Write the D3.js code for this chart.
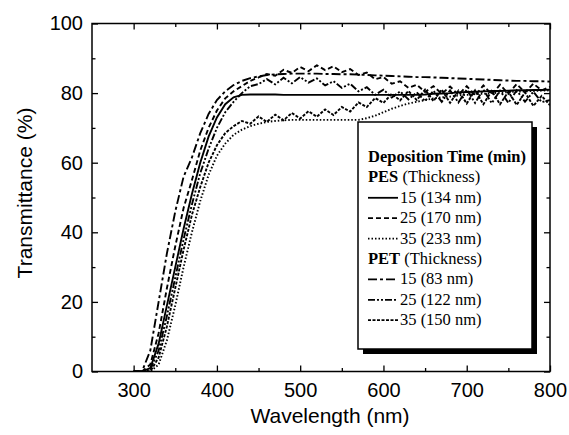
<!DOCTYPE html>
<html>
<head>
<meta charset="utf-8">
<script src="https://cdn.jsdelivr.net/npm/d3@7"></script>
<style>
  body { margin: 0; background: #fff; }
  .tick text { font-family: "Liberation Sans", Arial, sans-serif; font-size: 20px; fill: #000; }
  .legend text { font-family: "Liberation Serif", "Times New Roman", serif; font-size: 16.5px; fill: #000; }
</style>
</head>
<body>
<div id="chart"></div>
<script>
// wavelength grid (nm), one value every 10 nm
var wl = d3.range(300, 801, 10);

// transmittance (%)
var pes15 = [0,0,1,8,19,30,41,51,60,67.5,73,76.8,78.8,79.5,79.6,79.6,79.6,79.6,79.5,79.5,79.5,79.5,79.5,79.5,79.5,79.5,79.5,79.5,79.5,79.5,79.5,79.5,79.5,79.5,79.5,79.6,79.8,79.9,80,80.2,80.3,80.4,80.5,80.6,80.6,80.7,80.8,80.8,80.9,80.9,81];
var pes25 = [0,0,2,11,24,36,47,55,63.5,70,75,78.5,80.5,82,83.5,84.5,85.5,85,86.7,85.8,87.5,86.3,88,86.6,87.7,86,86.9,85.2,85.9,84,84.6,82.7,83.4,81.5,82.4,80.3,82,79.8,81.9,79.5,82,79.3,82.2,79.6,82.4,79.8,82.6,80.2,82.7,80.8,81.8];
var pes35 = [0,0,0,2,9,19,30,40,49,56.5,62,65.5,68,69.5,70.5,71.2,71.7,72,72.2,72.3,72.3,72.3,72.3,72.3,72.3,72.3,72.3,72.3,72.8,73.5,74.5,75.5,76.3,77,77.5,78,78.5,78.8,79,79.3,79.5,79.7,79.8,80,80.1,80.3,80.4,80.5,80.6,80.7,80.8];
var pet15 = [0,0,6,20,34,46,56,61.5,68.5,74,78,80.5,82.3,83.5,84.3,84.8,85.2,85.4,85.5,85.6,85.6,85.6,85.6,85.5,85.5,85.4,85.4,85.3,85.2,85.1,85,84.9,84.8,84.7,84.6,84.6,84.5,84.4,84.3,84.2,84.1,84,83.9,83.8,83.7,83.6,83.5,83.5,83.4,83.4,83.3];
var pet25 = [0,0,0.5,6,16,27,38,48,57,64,70,74.5,77.5,80,82,82.6,84,82.5,84.4,82.8,84.6,83,84.2,82.2,83.4,81.5,82.7,80.5,81.7,79.5,81,78.7,80.5,78.2,80.2,77.7,80.7,77.5,80.8,77.3,81,77.2,81,77.1,80.7,77.2,80.8,77.5,80.4,77.4,78];
var pet35 = [0,0,0,4,13,24,35,45,53,60,65,68.5,70.5,72,71.2,73.3,71.7,73.8,72.2,74.3,72.7,74.8,73.2,75.3,73.7,76,74.7,77.3,76,78.6,77.2,79.8,77.9,80.6,78,81,77.7,81,77.2,80.7,77,80.8,76.8,80.6,76.8,80.4,76.6,80.2,76.3,79.2,76.5];

var series = [
  { name: "PES 15", values: pes15, dash: null },
  { name: "PES 25", values: pes25, dash: "5,3" },
  { name: "PES 35", values: pes35, dash: "1.5,2" },
  { name: "PET 15", values: pet15, dash: "9,3,3,3" },
  { name: "PET 25", values: pet25, dash: "7,2,2,2,2,2" },
  { name: "PET 35", values: pet35, dash: "3,1.5" }
];

var xTicks = [300, 400, 500, 600, 700, 800],
    xMinor = [350, 450, 550, 650, 750],
    yTicks = [0, 20, 40, 60, 80, 100],
    yMinor = [10, 30, 50, 70, 90];

var legendRows = [
  { bold: "Deposition Time (min)", text: "", dash: undefined },
  { bold: "PES", text: " (Thickness)", dash: undefined },
  { bold: "", text: "15 (134 nm)", dash: null },
  { bold: "", text: "25 (170 nm)", dash: "5,3" },
  { bold: "", text: "35 (233 nm)", dash: "1.5,2" },
  { bold: "PET", text: " (Thickness)", dash: undefined },
  { bold: "", text: "15 (83 nm)", dash: "9,3,3,3" },
  { bold: "", text: "25 (122 nm)", dash: "7,2,2,2,2,2" },
  { bold: "", text: "35 (150 nm)", dash: "3,1.5" }
];

var width = 569, height = 435;
var pLeft = 92, pRight = 550, pTop = 23.5, pBottom = 371.5;

var svg = d3.select("#chart").append("svg")
    .attr("width", width)
    .attr("height", height);

var x = d3.scaleLinear().domain([250, 800]).range([pLeft, pRight]);
var y = d3.scaleLinear().domain([0, 100]).range([pBottom, pTop]);

svg.append("clipPath").attr("id", "clip")
  .append("rect")
    .attr("x", pLeft).attr("y", pTop)
    .attr("width", pRight - pLeft).attr("height", pBottom - pTop);

// curves
var line = d3.line()
    .x((d, i) => x(wl[i]))
    .y(d => y(d));

svg.append("g").attr("clip-path", "url(#clip)")
  .selectAll("path")
  .data(series)
  .join("path")
    .attr("d", d => line(d.values))
    .attr("fill", "none")
    .attr("stroke", "#000")
    .attr("stroke-width", 1.9)
    .attr("stroke-dasharray", d => d.dash);

// axes, ticks pointing inward on all four sides
function axisGroup(axis, tx, ty) {
  var g = svg.append("g").attr("transform", "translate(" + tx + "," + ty + ")").call(axis);
  g.select(".domain").remove();
  g.selectAll(".tick line").attr("stroke", "#000").attr("stroke-width", 1.3);
  return g;
}

axisGroup(d3.axisBottom(x).tickValues(xTicks).tickSize(-6).tickPadding(11).tickFormat(d3.format("d")), 0, pBottom);
axisGroup(d3.axisBottom(x).tickValues(xMinor).tickSize(-3.5).tickFormat(""), 0, pBottom);
axisGroup(d3.axisTop(x).tickValues(xTicks).tickSize(-6).tickFormat(""), 0, pTop);
axisGroup(d3.axisTop(x).tickValues(xMinor).tickSize(-3.5).tickFormat(""), 0, pTop);
axisGroup(d3.axisLeft(y).tickValues(yTicks).tickSize(-6).tickPadding(9).tickFormat(d3.format("d")), pLeft, 0);
axisGroup(d3.axisLeft(y).tickValues(yMinor).tickSize(-3.5).tickFormat(""), pLeft, 0);
axisGroup(d3.axisRight(y).tickValues(yTicks).tickSize(-6).tickFormat(""), pRight, 0);
axisGroup(d3.axisRight(y).tickValues(yMinor).tickSize(-3.5).tickFormat(""), pRight, 0);

svg.append("rect")
    .attr("x", pLeft).attr("y", pTop)
    .attr("width", pRight - pLeft).attr("height", pBottom - pTop)
    .attr("fill", "none")
    .attr("stroke", "#000")
    .attr("stroke-width", 1.5);

// axis titles
svg.append("text")
    .attr("x", 330).attr("y", 423)
    .attr("text-anchor", "middle")
    .style("font-family", "'Liberation Sans', Arial, sans-serif")
    .style("font-size", "21px")
    .text("Wavelength (nm)");

svg.append("text")
    .attr("transform", "translate(32,193) rotate(-90)")
    .attr("text-anchor", "middle")
    .style("font-family", "'Liberation Sans', Arial, sans-serif")
    .style("font-size", "21px")
    .text("Transmittance (%)");

// legend box with drop shadow
var lg = svg.append("g").attr("class", "legend");
var bx = 358, by = 122, bw = 174, bh = 227;
lg.append("rect")
    .attr("x", bx + 5).attr("y", by + 5)
    .attr("width", bw).attr("height", bh)
    .attr("fill", "#000");
lg.append("rect")
    .attr("x", bx).attr("y", by)
    .attr("width", bw).attr("height", bh)
    .attr("fill", "#fff")
    .attr("stroke", "#000")
    .attr("stroke-width", 1.5);

legendRows.forEach(function(r, i) {
  var yy = 162 + i * 20.4;
  var tx = 368;
  if (r.dash !== undefined) {
    lg.append("line")
        .attr("x1", 368).attr("x2", 398)
        .attr("y1", yy - 5).attr("y2", yy - 5)
        .attr("stroke", "#000")
        .attr("stroke-width", 1.8)
        .attr("stroke-dasharray", r.dash);
    tx = 400;
  }
  var t = lg.append("text").attr("x", tx).attr("y", yy);
  if (r.bold) t.append("tspan").attr("font-weight", "bold").text(r.bold);
  if (r.text) t.append("tspan").attr("xml:space", "preserve").text(r.text);
});
</script>
</body>
</html>
